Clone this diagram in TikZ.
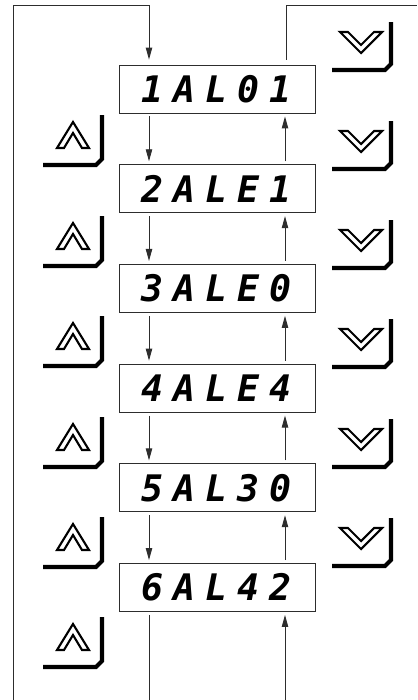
\documentclass[tikz,border=0pt]{standalone}
\usepackage{fontspec}
\newfontfamily\lcdfont{DejaVu Sans Mono}
\usetikzlibrary{arrows.meta, calc}
\definecolor{linegray}{RGB}{45, 45, 45}
\newcommand{\lcd}[5]{\makebox[0.8cm]{#1}\makebox[0.8cm]{#2}\makebox[0.8cm]{#3}\makebox[0.8cm]{#4}\makebox[0.8cm]{#5}}
\tikzset{
    displaybox/.style={draw=linegray, line width=0.6pt, rectangle, minimum width=4.9cm, minimum height=1.2cm, inner sep=0pt, font=\lcdfont\bfseries\itshape\fontsize{26}{26}\selectfont},
    flowline/.style={draw=linegray, line width=0.65pt},
    flowarrow/.style={flowline, -{Triangle[length=3mm, width=1.6mm]}},
    keyicon/.style={line width=1.5pt, line join=miter},
    keyedge/.style={line width=2.9pt, line join=miter},
    upkey/.pic={
        \draw[keyicon] (-16,13) -- (0,-13) -- (16,13) -- (9,13) -- (0,-2) -- (-9,13) -- cycle;
        \draw[keyedge] (-30,30) -- (23,30) -- (29,24) -- (29,-20);
    },
    downkey/.pic={
        \draw[keyicon] (-21,-10) -- (0,11) -- (21,-10) -- (13,-10) -- (0,3) -- (-13,-10) -- cycle;
        \draw[keyedge] (-29,28) -- (24,28) -- (30,22) -- (30,-20);
    },
}
\begin{document}
\begin{tikzpicture}[x=0.025cm, y=-0.025cm]
    \useasboundingbox (0,0) rectangle (417,700);

    % alarm displays
    \node[displaybox] (al1) at (217,89) {\lcd{1}{A}{L}{0}{1}};
    \node[displaybox] (al2) at (217,188.7) {\lcd{2}{A}{L}{E}{1}};
    \node[displaybox] (al3) at (217,288.4) {\lcd{3}{A}{L}{E}{0}};
    \node[displaybox] (al4) at (217,388.1) {\lcd{4}{A}{L}{E}{4}};
    \node[displaybox] (al5) at (217,487.8) {\lcd{5}{A}{L}{3}{0}};
    \node[displaybox] (al6) at (217,587.5) {\lcd{6}{A}{L}{4}{2}};

    % outer loop lines
    \coordinate (lbot) at (13,700);
    \coordinate (ltop) at (13,5);
    \coordinate (rtop) at (417,5);
    \coordinate (dbot) at (149,700);
    \coordinate (ubot) at (285,700);
    \draw[flowarrow] (lbot) -- (ltop) -| ($(al1.north)+(-68,-5)$);
    \draw[flowline] ($(al1.north)+(69,-5)$) |- (rtop);

    % stepping down
    \draw[flowarrow] ($(al1.south)+(-68,3)$) -- ($(al2.north)+(-68,-3)$);
    \draw[flowarrow] ($(al2.south)+(-68,3)$) -- ($(al3.north)+(-68,-3)$);
    \draw[flowarrow] ($(al3.south)+(-68,3)$) -- ($(al4.north)+(-68,-3)$);
    \draw[flowarrow] ($(al4.south)+(-68,3)$) -- ($(al5.north)+(-68,-3)$);
    \draw[flowarrow] ($(al5.south)+(-68,3)$) -- ($(al6.north)+(-68,-3)$);
    \draw[flowline] ($(al6.south)+(-68,3)$) -- (dbot);

    % stepping up
    \draw[flowarrow] ($(al2.north)+(68,-3)$) -- ($(al1.south)+(68,3)$);
    \draw[flowarrow] ($(al3.north)+(68,-3)$) -- ($(al2.south)+(68,3)$);
    \draw[flowarrow] ($(al4.north)+(68,-3)$) -- ($(al3.south)+(68,3)$);
    \draw[flowarrow] ($(al5.north)+(68,-3)$) -- ($(al4.south)+(68,3)$);
    \draw[flowarrow] ($(al6.north)+(68,-3)$) -- ($(al5.south)+(68,3)$);
    \draw[flowarrow] (ubot) -- ($(al6.south)+(68,3)$);

    % keys
    \pic at (73,135) {upkey};
    \pic at (73,236) {upkey};
    \pic at (73,336) {upkey};
    \pic at (73,437) {upkey};
    \pic at (73,537) {upkey};
    \pic at (73,637) {upkey};
    \pic at (361,42) {downkey};
    \pic at (361,141) {downkey};
    \pic at (361,240) {downkey};
    \pic at (361,339) {downkey};
    \pic at (361,439) {downkey};
    \pic at (361,538) {downkey};
\end{tikzpicture}
\end{document}
